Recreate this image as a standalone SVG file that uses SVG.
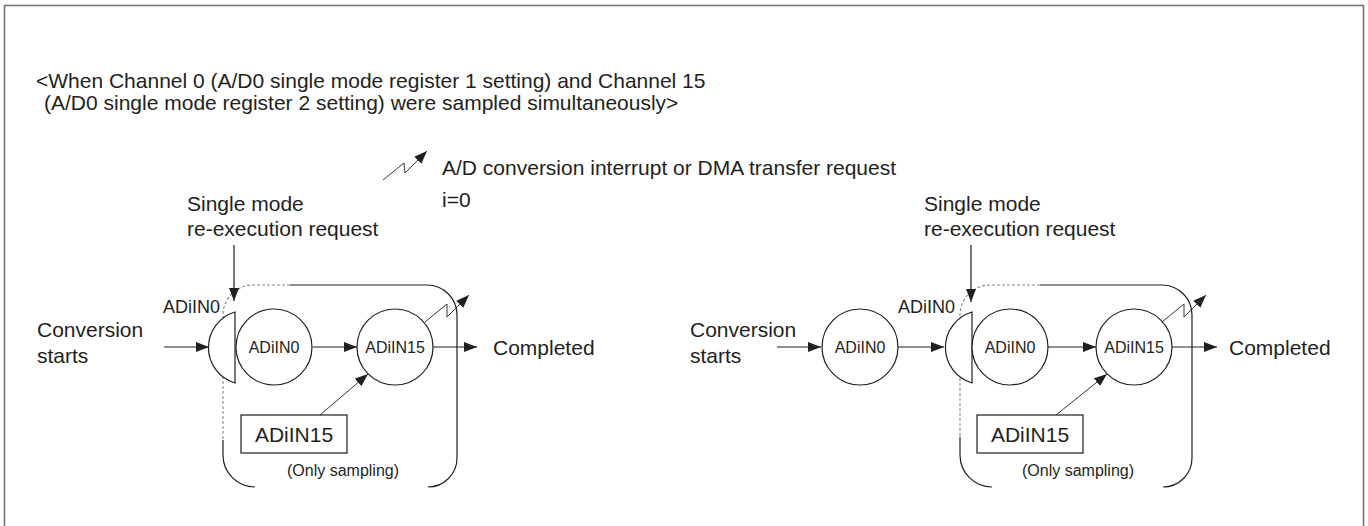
<svg xmlns="http://www.w3.org/2000/svg" width="1368" height="526" viewBox="0 0 1368 526">
<style>
text{font-family:"Liberation Sans",Arial,sans-serif;fill:#231f20}
.t{font-size:21px}
.c{font-size:16px;text-anchor:middle}
.s{font-size:16px;text-anchor:middle}
.ln{fill:none;stroke:#231f20;stroke-width:1.2}
.dash{fill:none;stroke:#8a8a8a;stroke-width:1.1;stroke-dasharray:3 2}
.node{fill:#fff;stroke:#231f20;stroke-width:1.2}
.ar{fill:none;stroke:#231f20;stroke-width:1.2;marker-end:url(#ah)}
.thin{fill:none;stroke:#231f20;stroke-width:0.9;marker-end:url(#ah)}
</style>
<defs>
<marker id="ah" markerUnits="userSpaceOnUse" markerWidth="14" markerHeight="10" refX="13" refY="5" orient="auto">
<path d="M0,0 L13,5 L0,10 Z" fill="#231f20"/>
</marker>
</defs>
<rect x="4.5" y="5.5" width="1359" height="530" fill="#fff" stroke="#777" stroke-width="1.6"/>
<g id="title">
<text class="t" x="36" y="88">&lt;When Channel 0 (A/D0 single mode register 1 setting) and Channel 15</text>
<text class="t" x="44" y="110">(A/D0 single mode register 2 setting) were sampled simultaneously&gt;</text>
</g>
<g id="legend">
<path class="thin" d="M383,180 L404,163 L405,173 L427,151"/>
<text class="t" x="442" y="175">A/D conversion interrupt or DMA transfer request</text>
<text class="t" x="442" y="207">i=0</text>
</g>
<g id="left-diagram">
<g id="left-box">
<path class="ln" d="M290,285 H427 A30,30 0 0 1 457,315 V458 A29,29 0 0 1 428,487"/>
<path class="ln" d="M223,440 V455 A32,32 0 0 0 255,487"/>
<path class="dash" d="M290,285 H253 A30,30 0 0 0 223,315 V440"/>
</g>
<g id="left-labels">
<text class="t" x="187" y="211">Single mode</text>
<text class="t" x="187" y="236">re-execution request</text>
<text class="t" x="37" y="337">Conversion</text>
<text class="t" x="37" y="363">starts</text>
<text x="163" y="313" style="font-size:18px">ADiIN0</text>
<text class="t" x="493" y="355">Completed</text>
</g>
<g id="left-half"><path class="node" d="M235,312 A37,37 0 0 0 235,383 Z"/></g>
<g id="left-adiin0"><circle class="node" cx="274" cy="347" r="38"/><text class="c" x="274" y="353">ADiIN0</text></g>
<g id="left-adiin15"><circle class="node" cx="395" cy="347" r="38"/><text class="c" x="395" y="353">ADiIN15</text></g>
<g id="left-box15"><rect class="node" x="241" y="415" width="106" height="38"/><text class="t" x="294" y="442" text-anchor="middle">ADiIN15</text></g>
<text class="s" x="343" y="476">(Only sampling)</text>
</g>
<g id="right-diagram">
<g id="right-box">
<path class="ln" d="M1040,285 H1162 A30,30 0 0 1 1192,315 V458 A29,29 0 0 1 1163,487"/>
<path class="ln" d="M960,437 V455 A32,32 0 0 0 992,487"/>
<path class="dash" d="M1040,285 H990 A30,30 0 0 0 960,315 V437"/>
</g>
<g id="right-labels">
<text class="t" x="924" y="211">Single mode</text>
<text class="t" x="924" y="236">re-execution request</text>
<text class="t" x="690" y="337">Conversion</text>
<text class="t" x="690" y="363">starts</text>
<text x="898" y="313" style="font-size:18px">ADiIN0</text>
<text class="t" x="1229" y="355">Completed</text>
</g>
<g id="right-first"><circle class="node" cx="860" cy="347" r="38"/><text class="c" x="860" y="353">ADiIN0</text></g>
<g id="right-half"><path class="node" d="M972,312 A37,37 0 0 0 972,383 Z"/></g>
<g id="right-adiin0"><circle class="node" cx="1010" cy="347" r="38"/><text class="c" x="1010" y="353">ADiIN0</text></g>
<g id="right-adiin15"><circle class="node" cx="1134" cy="347" r="38"/><text class="c" x="1134" y="353">ADiIN15</text></g>
<g id="right-box15"><rect class="node" x="977" y="415" width="106" height="38"/><text class="t" x="1030" y="442" text-anchor="middle">ADiIN15</text></g>
<text class="s" x="1078" y="476">(Only sampling)</text>
</g>
<g id="connectors">
<path class="ar" d="M164,347 H209"/>
<path class="ar" d="M313,347 H357"/>
<path class="ar" d="M433,347 H477"/>
<path class="ar" d="M234,245 V301"/>
<path class="thin" d="M320,415 L368,374"/>
<path class="thin" d="M425,322 L447,304 L447,317 L469,295"/>
<path class="ar" d="M777,347 H821"/>
<path class="ar" d="M898,347 H944"/>
<path class="ar" d="M1048,347 H1096"/>
<path class="ar" d="M1172,347 H1217"/>
<path class="ar" d="M971,245 V302"/>
<path class="thin" d="M1056,415 L1107,374"/>
<path class="thin" d="M1162,322 L1184,304 L1184,317 L1206,295"/>
</g>
</svg>
